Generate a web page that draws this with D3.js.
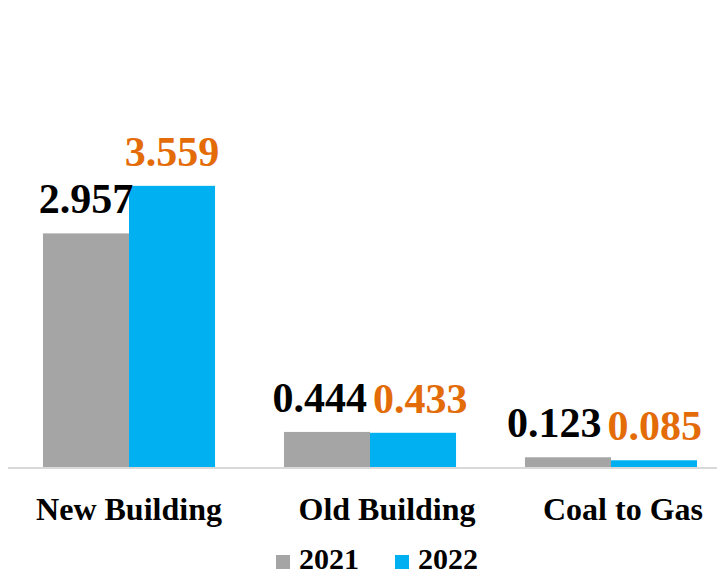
<!DOCTYPE html>
<html>
<head>
<meta charset="utf-8">
<script src="https://cdn.jsdelivr.net/npm/d3@7"></script>
<style>
  body { margin: 0; background: #fff; }
  text { font-family: "Liberation Serif", "Times New Roman", serif; font-weight: bold; }
</style>
</head>
<body>
<svg id="chart"></svg>
<script>
const categories = ['New Building', 'Old Building', 'Coal to Gas'];
const seriesNames = ['2021', '2022'];
const values2021 = [2.957, 0.444, 0.123];
const values2022 = [3.559, 0.433, 0.085];

const width = 717;
const height = 576;
const colors = { '2021': '#A5A5A5', '2022': '#00B0F0' };
const labelColors = { '2021': '#000000', '2022': '#E36C09' };
const tickShift = [0, 17, 12]; // category labels sit a bit right of center in the original

const svg = d3.select('#chart')
    .attr('width', width)
    .attr('height', height);

const x = d3.scaleBand()
    .domain(categories)
    .range([8.5, 731.5])
    .paddingInner(0.286)
    .paddingOuter(0.143);

const x1 = d3.scaleBand()
    .domain(seriesNames)
    .range([0, x.bandwidth()]);

const y = d3.scaleLinear()
    .domain([0, 4])
    .range([467, 151]);

const rows = categories.map((c, i) => ({
    cat: c,
    vals: [
        { key: '2021', value: values2021[i] },
        { key: '2022', value: values2022[i] }
    ]
}));

const groups = svg.selectAll('.grp')
    .data(rows)
    .enter()
    .append('g')
    .attr('class', 'grp')
    .attr('transform', d => `translate(${x(d.cat)},0)`);

groups.selectAll('rect')
    .data(d => d.vals)
    .enter()
    .append('rect')
    .attr('x', d => x1(d.key))
    .attr('y', d => y(d.value))
    .attr('width', x1.bandwidth())
    .attr('height', d => y(0) - y(d.value))
    .attr('fill', d => colors[d.key]);

groups.selectAll('.lbl')
    .data(d => d.vals)
    .enter()
    .append('text')
    .attr('class', 'lbl')
    .attr('x', d => x1(d.key) + x1.bandwidth() / 2)
    .attr('y', d => y(d.value) - 20)
    .attr('text-anchor', 'middle')
    .style('font-size', '42px')
    .style('fill', d => labelColors[d.key])
    .text(d => d.value.toFixed(3));

// push overlapping labels apart, keep the right label inside the chart
groups.each(function (d) {
    const labels = d3.select(this).selectAll('.lbl').nodes();
    const gx = x(d.cat);
    const a = labels[0].getBBox();
    const b = labels[1].getBBox();
    const vOverlap = Math.abs(a.y - b.y) < a.height * 0.6;
    const need = (a.x + a.width + 6) - b.x;
    if (vOverlap && need > 0) {
        let right = need / 2;
        const maxRight = width - 15 - (gx + b.x + b.width);
        right = Math.max(0, Math.min(right, maxRight));
        const left = need - right;
        d3.select(labels[0]).attr('x', +labels[0].getAttribute('x') - left);
        d3.select(labels[1]).attr('x', +labels[1].getAttribute('x') + right);
    }
});

// baseline
svg.append('line')
    .attr('x1', 8)
    .attr('x2', width)
    .attr('y1', y(0) + 1)
    .attr('y2', y(0) + 1)
    .attr('stroke', '#D9D9D9')
    .attr('stroke-width', 2);

// category labels
const xAxis = svg.append('g')
    .attr('transform', `translate(0,${y(0) + 2})`)
    .call(d3.axisBottom(x).tickSize(0).tickPadding(28));
xAxis.select('.domain').remove();
xAxis.selectAll('text')
    .attr('fill', '#000')
    .attr('dx', (d, i) => tickShift[i])
    .style('font-size', '32px')
    .style('font-family', '"Liberation Serif", "Times New Roman", serif')
    .style('font-weight', 'bold');

// legend
const legendX = [276, 395];
const legend = svg.selectAll('.leg')
    .data(seriesNames)
    .enter()
    .append('g')
    .attr('class', 'leg')
    .attr('transform', (d, i) => `translate(${legendX[i]},555)`);

legend.append('rect')
    .attr('width', 14)
    .attr('height', 14)
    .attr('fill', d => colors[d]);

legend.append('text')
    .attr('x', 23)
    .attr('y', 14)
    .style('font-size', '30px')
    .style('fill', '#000')
    .text(d => d);
</script>
</body>
</html>
